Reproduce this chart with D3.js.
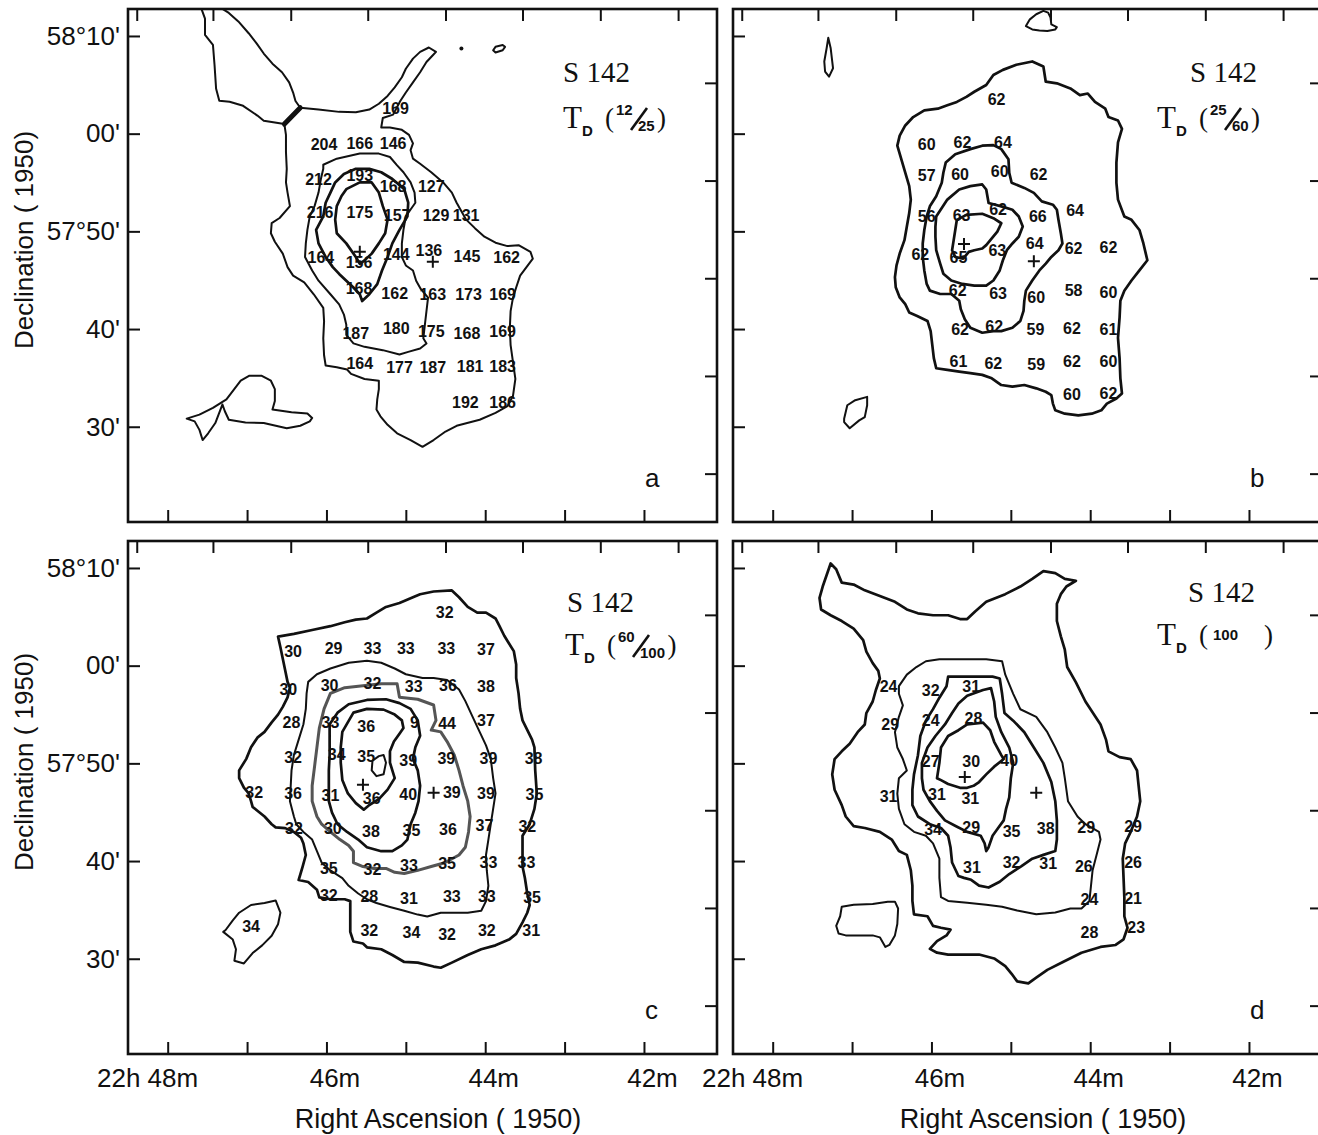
<!DOCTYPE html>
<html>
<head>
<meta charset="utf-8">
<script src="https://cdn.jsdelivr.net/npm/d3@7"></script>
<style>
  body { margin: 0; background: #fff; }
  text { font-family: "Liberation Sans", Arial, Helvetica, sans-serif; fill: #111; }
  .serif { font-family: "Liberation Serif", "Times New Roman", serif; }
  .num { font-weight: bold; font-size: 16px; }
</style>
</head>
<body>
<svg id="fig" width="1318" height="1135"></svg>
<script>
// ---- axes: RA in minutes of 22h, Dec in arcmin past 57 deg ----
const raTicks = [48, 47, 46, 45, 44, 43, 42];
const raTopTicks = [48.39, 47.43, 46.45, 45.48, 44.5, 43.53, 42.55, 41.57];
const raLabelVals = [48, 46, 44, 42];
const raLabelText = ["22h 48m", "46m", "44m", "42m"];
const decTicks = [70, 60, 50, 40, 30];
const decLabelText = ["58\u00b010'", "00'", "57\u00b050'", "40'", "30'"];
const decRightTicks = [65.2, 55.2, 45.2, 35.2, 25.2];

// ---- panel a : T_D (12/25) ----
const aOuter = [[47.57,72.67],[47.53,71.77],[47.53,70.11],[47.43,69.1],[47.41,67.05],[47.39,64.59],[47.35,63.37],[47.22,63.27],[47.05,62.85],[46.87,61.85],[46.79,61.33],[46.53,60.98],[46.51,59.87],[46.51,58.13],[46.50,56.4],[46.51,55.01],[46.49,53.97],[46.46,52.58],[46.59,51.37],[46.69,50.85],[46.7,49.81],[46.65,48.94],[46.55,47.72],[46.49,46.34],[46.42,45.47],[46.28,44.77],[46.16,43.56],[46.04,42.17],[46.03,40.79],[46.04,39.05],[46.03,37.32],[46.01,36.27],[45.87,36.1],[45.74,35.86],[45.69,35.41],[45.52,34.89],[45.34,34.71],[45.34,33.85],[45.36,32.8],[45.37,31.76],[45.32,31.07],[45.23,30.2],[45.11,29.33],[44.94,28.64],[44.79,27.95],[44.65,28.64],[44.5,29.51],[44.36,30.1],[44.07,30.72],[43.87,31.42],[43.72,32.11],[43.65,33.15],[43.62,34.89],[43.65,36.62],[43.68,38.36],[43.69,40.09],[43.68,41.83],[43.65,43.21],[43.61,44.25],[43.56,45.47],[43.48,46.34],[43.4,47.2],[43.43,47.9],[43.58,48.59],[43.72,48.49],[43.87,48.84],[44.01,49.46],[44.13,50.33],[44.24,51.2],[44.3,52.06],[44.36,52.93],[44.42,53.97],[44.53,55.01],[44.68,56.05],[44.82,56.92],[44.91,57.44],[44.94,58.31],[44.91,59.0],[44.96,59.87],[45.05,60.39],[45.2,60.63],[45.31,60.63],[45.29,61.6],[45.16,61.95],[45.07,63.34],[45.0,64.21],[44.91,65.25],[44.82,66.29],[44.74,67.33],[44.66,68.03],[44.62,68.37],[44.71,68.82],[44.82,68.37],[44.91,67.68],[45.0,66.64],[45.05,65.77],[45.14,64.73],[45.23,63.86],[45.34,63.06],[45.46,62.47],[45.63,62.2],[45.84,62.23],[46.1,62.47],[46.33,62.65],[46.39,63.34],[46.42,64.21],[46.47,65.25],[46.56,66.29],[46.68,67.16],[46.79,68.2],[46.88,69.24],[46.98,70.28],[47.11,71.49],[47.23,72.36],[47.31,72.78]];
const aRidge = [[46.53,60.98],[46.33,62.65]];
const aLevel2 = [[46.04,56.82],[45.87,57.44],[45.58,57.96],[45.34,57.96],[45.2,57.61],[45.11,56.75],[45.03,56.05],[44.94,55.01],[44.89,53.97],[44.88,52.93],[44.94,52.24],[45.0,51.54],[45.03,50.15],[45.05,48.77],[45.05,47.38],[45.0,46.51],[44.91,45.99],[44.87,44.95],[44.81,44.08],[44.72,43.21],[44.74,41.83],[44.76,40.44],[44.78,39.05],[44.74,38.53],[44.82,38.01],[44.97,37.66],[45.08,37.39],[45.29,37.84],[45.52,38.18],[45.66,38.53],[45.75,39.4],[45.75,40.44],[45.78,41.48],[45.84,42.52],[45.95,43.56],[46.1,44.95],[46.18,45.99],[46.27,47.38],[46.26,48.77],[46.24,50.15],[46.21,51.54],[46.15,52.58],[46.1,53.97],[46.07,55.36],[46.04,56.4]];
const aLevel3 = [[45.89,55.01],[45.78,55.88],[45.63,56.4],[45.46,56.4],[45.31,56.05],[45.17,55.36],[45.02,54.32],[44.97,52.93],[44.98,51.54],[45.08,50.15],[45.17,48.77],[45.23,47.38],[45.3,45.99],[45.36,44.6],[45.46,43.56],[45.55,42.87],[45.58,43.56],[45.66,44.25],[45.75,44.95],[45.84,45.64],[45.92,46.34],[46.01,47.38],[46.1,48.77],[46.13,50.15],[46.04,51.54],[46.01,52.93],[45.95,53.97]];
const aLevel4 = [[45.75,54.32],[45.58,55.01],[45.43,55.01],[45.34,53.97],[45.29,52.58],[45.23,51.2],[45.26,49.81],[45.34,48.77],[45.43,47.72],[45.52,47.03],[45.58,46.68],[45.63,47.38],[45.75,48.77],[45.87,49.81],[45.89,51.2],[45.87,52.58],[45.81,53.62]];
const aBlobSW = [[47.76,30.83],[47.66,30.55],[47.6,29.68],[47.56,28.64],[47.49,29.33],[47.4,30.38],[47.31,32.28],[47.28,31.59],[47.23,30.72],[47.02,30.44],[46.79,30.38],[46.5,29.85],[46.33,30.1],[46.21,30.55],[46.18,30.9],[46.24,31.35],[46.44,31.48],[46.68,31.76],[46.65,32.63],[46.65,33.85],[46.7,34.71],[46.82,35.23],[46.97,35.23],[47.08,34.71],[47.26,32.8],[47.43,31.94],[47.6,31.24]];
const aBlobNE = [[43.9,68.54],[43.87,68.89],[43.78,69.07],[43.75,68.89],[43.78,68.54],[43.87,68.3]];
const aDots = [[44.3,68.72]];
const aValues = [[45.13,62.6,169],
  [46.03,58.9,204],[45.58,59.0,166],[45.16,59.0,146],
  [46.10,55.3,212],[45.58,55.7,193],[45.16,54.6,168],[44.68,54.6,127],
  [46.08,52.0,216],[45.58,52.0,175],[45.11,51.7,157],[44.62,51.7,129],[44.24,51.7,131],
  [46.07,47.4,164],[45.59,46.8,156],[45.12,47.7,144],[44.71,48.1,136],[44.23,47.5,145],[43.73,47.3,162],
  [45.59,44.2,168],[45.14,43.7,162],[44.66,43.6,163],[44.21,43.6,173],[43.78,43.6,169],
  [45.63,39.6,187],[45.12,40.1,180],[44.68,39.8,175],[44.23,39.6,168],[43.78,39.8,169],
  [45.58,36.5,164],[45.08,36.1,177],[44.66,36.1,187],[44.19,36.2,181],[43.78,36.2,183],
  [44.25,32.5,192],[43.78,32.5,186]];
const aCrosses = [[45.58,47.9],[44.66,46.9]];

// ---- panel b : T_D (25/60) ----
const bOuter = [[44.73,67.39],[44.59,66.87],[44.56,65.32],[44.42,65.15],[44.25,64.63],[44.13,63.94],[44.03,64.11],[43.94,63.25],[43.81,62.56],[43.77,61.7],[43.65,61.35],[43.6,60.49],[43.65,59.11],[43.67,57.04],[43.67,54.97],[43.65,53.25],[43.57,51.52],[43.48,51.18],[43.38,50.14],[43.33,48.76],[43.28,47.04],[43.38,46.0],[43.48,44.97],[43.57,43.93],[43.62,42.9],[43.63,41.17],[43.65,39.1],[43.63,37.03],[43.62,34.96],[43.6,33.41],[43.67,32.89],[43.79,32.37],[43.86,31.68],[43.98,31.34],[44.15,31.17],[44.32,31.34],[44.44,31.68],[44.47,32.37],[44.49,33.24],[44.56,33.58],[44.68,33.93],[44.83,34.27],[44.98,34.1],[45.12,34.27],[45.24,34.96],[45.36,35.31],[45.51,35.48],[45.65,35.65],[45.8,35.82],[45.94,35.99],[45.97,37.03],[45.99,38.41],[46.01,39.79],[46.05,40.83],[46.18,41.34],[46.28,41.69],[46.33,42.55],[46.4,43.24],[46.45,44.28],[46.46,45.31],[46.44,46.52],[46.4,47.73],[46.34,49.1],[46.31,50.49],[46.28,51.87],[46.26,53.25],[46.28,54.63],[46.33,56.0],[46.38,57.39],[46.43,58.77],[46.4,59.8],[46.33,60.84],[46.23,61.7],[46.09,62.39],[45.92,62.56],[45.8,62.91],[45.68,63.25],[45.56,63.77],[45.46,64.29],[45.31,64.98],[45.22,66.01],[45.1,66.53],[44.93,67.05]];
const bLevel2 = [[45.82,57.04],[45.7,57.9],[45.51,58.42],[45.36,58.77],[45.22,58.83],[45.12,58.42],[45.03,57.39],[45.02,56.0],[44.99,54.97],[44.83,54.45],[44.71,53.94],[44.61,53.07],[44.47,52.73],[44.42,52.21],[44.4,51.18],[44.37,49.8],[44.35,48.76],[44.4,48.07],[44.49,47.38],[44.56,46.69],[44.64,46.0],[44.73,44.97],[44.81,43.93],[44.83,42.9],[44.84,41.86],[44.88,40.83],[44.98,40.14],[45.12,39.79],[45.22,39.79],[45.36,39.62],[45.51,40.14],[45.58,41.0],[45.63,42.03],[45.65,42.9],[45.75,43.59],[45.89,43.59],[46.02,43.93],[46.06,44.62],[46.09,46.0],[46.11,47.38],[46.11,48.76],[46.09,50.14],[46.06,51.52],[46.02,52.56],[45.94,53.59],[45.87,54.97],[45.85,56.0]];
const bLevel3 = [[45.94,51.52],[45.8,53.25],[45.65,54.28],[45.51,54.63],[45.36,54.8],[45.31,54.28],[45.28,52.9],[45.12,52.56],[44.98,52.21],[44.9,51.52],[44.85,50.49],[44.9,49.45],[44.98,48.76],[45.05,48.07],[45.1,47.04],[45.14,46.0],[45.22,44.97],[45.31,44.45],[45.46,44.45],[45.61,44.62],[45.75,44.97],[45.85,45.66],[45.89,46.69],[45.94,48.07],[45.95,49.45],[45.95,50.49]];
const bLevel4 = [[45.68,51.18],[45.56,51.69],[45.36,51.8],[45.22,51.35],[45.12,50.83],[45.17,49.97],[45.24,49.28],[45.31,48.59],[45.36,48.24],[45.46,48.07],[45.53,47.9],[45.6,47.21],[45.7,47.38],[45.74,48.07],[45.72,49.1],[45.7,50.14]];
const bBlobNW = [[47.3,69.81],[47.27,68.77],[47.25,67.39],[47.24,66.7],[47.29,65.84],[47.34,66.36],[47.35,67.39],[47.32,68.77]];
const bBlobTop = [[44.81,71.01],[44.76,71.7],[44.68,72.22],[44.59,72.57],[44.53,72.39],[44.5,71.88],[44.49,71.19],[44.42,70.91],[44.44,70.67],[44.54,70.5],[44.64,70.56],[44.73,70.67]];
const bBlobSW = [[47.1,30.82],[47.06,32.2],[46.96,32.72],[46.81,33.06],[46.81,32.2],[46.84,30.99],[46.91,30.65],[47.03,29.85],[47.1,30.48]];
const bValues = [[45.18,63.5,62],
  [46.06,58.9,60],[45.61,59.1,62],[45.10,59.1,64],
  [46.06,55.7,57],[45.64,55.8,60],[45.14,56.2,60],[44.65,55.8,62],
  [46.06,51.5,56],[45.62,51.7,63],[45.16,52.3,62],[44.66,51.5,66],[44.19,52.2,64],
  [46.14,47.7,62],[45.66,47.4,65],[45.17,48.1,63],[44.70,48.8,64],[44.21,48.3,62],[43.77,48.4,62],
  [45.67,44.0,62],[45.16,43.7,63],[44.68,43.3,60],[44.21,44.0,58],[43.77,43.8,60],
  [45.64,40.0,62],[45.21,40.3,62],[44.69,40.0,59],[44.23,40.1,62],[43.77,40.0,61],
  [45.66,36.7,61],[45.22,36.5,62],[44.68,36.4,59],[44.23,36.7,62],[43.77,36.75,60],
  [44.23,33.3,60],[43.77,33.4,62]];
const bCrosses = [[45.59,48.7],[44.71,46.93]];

// ---- panel c : T_D (60/100) ----
const cOuter = [[46.61,62.98],[46.41,63.26],[46.18,63.65],[45.95,64.04],[45.77,64.44],[45.63,64.71],[45.49,64.83],[45.37,65.42],[45.25,66.01],[45.08,66.41],[44.91,67.0],[44.82,67.31],[44.65,67.59],[44.42,67.7],[44.33,67.0],[44.22,66.01],[44.1,65.42],[43.99,65.42],[43.87,64.83],[43.82,64.04],[43.76,63.06],[43.7,62.27],[43.64,61.49],[43.61,60.11],[43.61,58.73],[43.58,57.16],[43.56,55.58],[43.53,54.4],[43.41,52.43],[43.38,51.64],[43.37,49.28],[43.35,46.92],[43.38,45.34],[43.44,43.77],[43.53,42.59],[43.53,41.01],[43.53,39.44],[43.5,38.26],[43.47,36.68],[43.44,35.5],[43.47,34.71],[43.53,33.73],[43.61,32.55],[43.7,31.96],[43.87,31.37],[44.05,30.97],[44.22,30.38],[44.42,29.6],[44.56,29.08],[44.65,29.2],[44.85,29.6],[45.02,29.67],[45.17,30.38],[45.31,30.97],[45.49,31.17],[45.54,31.56],[45.66,31.76],[45.7,32.75],[45.7,34.32],[45.7,35.9],[45.77,36.09],[45.95,36.09],[46.09,36.29],[46.12,37.07],[46.23,37.86],[46.35,38.06],[46.3,39.44],[46.26,40.62],[46.29,41.8],[46.32,42.39],[46.41,42.98],[46.52,43.37],[46.64,43.45],[46.69,43.77],[46.78,44.56],[46.87,45.15],[46.93,45.54],[46.95,46.13],[46.98,46.92],[47.04,47.51],[47.1,48.49],[47.1,49.28],[47.01,50.46],[46.95,51.64],[46.87,52.63],[46.78,53.22],[46.69,54.2],[46.61,54.99],[46.55,55.78],[46.49,56.76],[46.46,57.75],[46.49,58.34],[46.52,59.52],[46.55,60.7],[46.58,61.88]];
const cLevel2 = [[46.23,58.34],[46.12,59.12],[45.95,59.71],[45.72,60.3],[45.49,60.5],[45.31,60.3],[45.14,59.71],[45.0,59.12],[44.79,58.73],[44.65,58.73],[44.48,58.53],[44.33,57.55],[44.25,56.37],[44.16,54.79],[44.07,53.22],[43.99,51.84],[43.93,50.46],[43.9,48.49],[43.87,46.92],[43.9,45.34],[43.93,43.77],[43.96,42.2],[43.99,40.62],[43.98,39.04],[43.96,37.47],[43.99,35.9],[44.05,34.91],[44.22,34.71],[44.39,34.71],[44.56,34.71],[44.73,34.32],[44.85,34.52],[45.02,34.91],[45.2,35.3],[45.37,35.7],[45.49,36.09],[45.6,36.68],[45.72,37.47],[45.8,38.26],[45.95,39.04],[46.06,39.83],[46.12,41.01],[46.18,42.2],[46.29,42.98],[46.38,43.77],[46.41,44.56],[46.46,46.13],[46.45,47.71],[46.44,49.28],[46.41,50.86],[46.35,52.43],[46.29,54.0],[46.26,55.58],[46.25,57.16]];
const cLevel3 = [[45.95,57.16],[45.77,57.75],[45.54,57.94],[45.31,58.14],[45.11,58.14],[45.08,56.76],[44.85,56.56],[44.65,55.97],[44.62,54.4],[44.68,53.41],[44.56,53.22],[44.48,52.23],[44.39,50.86],[44.33,49.28],[44.28,47.71],[44.22,46.13],[44.19,44.56],[44.21,42.98],[44.25,41.41],[44.33,40.62],[44.51,39.83],[44.68,39.44],[44.85,39.05],[45.02,38.73],[45.14,38.85],[45.25,39.24],[45.4,39.24],[45.54,39.44],[45.66,39.83],[45.66,41.01],[45.72,41.6],[45.83,42.2],[45.95,42.98],[46.06,43.77],[46.12,44.56],[46.18,46.13],[46.18,47.71],[46.15,49.67],[46.12,51.64],[46.09,53.61],[46.03,55.58]];
const cLevel4 = [[45.96,54.0],[45.86,55.19],[45.72,56.05],[45.49,56.49],[45.25,56.56],[45.08,56.17],[44.94,55.58],[44.85,54.4],[44.82,52.82],[44.88,51.64],[44.91,50.46],[44.85,49.28],[44.82,47.71],[44.84,46.13],[44.88,44.95],[44.94,43.77],[44.98,42.2],[45.05,41.6],[45.17,41.01],[45.31,41.01],[45.49,41.41],[45.6,42.2],[45.74,42.98],[45.86,43.77],[45.93,44.95],[45.97,46.13],[45.97,47.71],[45.97,49.28],[45.96,50.86],[45.96,52.43]];
const cLevel5 = [[45.8,53.22],[45.66,55.19],[45.49,55.58],[45.28,55.5],[45.14,54.99],[45.05,54.4],[45.03,53.61],[45.08,53.02],[45.15,52.23],[45.2,51.25],[45.2,50.07],[45.14,48.49],[45.23,47.31],[45.34,46.33],[45.46,45.74],[45.53,45.26],[45.63,45.93],[45.73,46.92],[45.8,48.3],[45.82,50.07],[45.82,51.64]];
const cCore = [[45.34,50.74],[45.28,50.86],[45.25,50.07],[45.28,48.89],[45.37,48.69],[45.43,49.28],[45.42,50.27]];
const cBlobSW = [[47.27,32.94],[47.18,33.93],[47.1,34.71],[46.95,35.5],[46.78,35.7],[46.64,35.97],[46.58,34.71],[46.61,33.53],[46.69,32.35],[46.81,31.37],[46.93,30.58],[47.04,29.52],[47.16,29.79],[47.14,30.97],[47.18,31.96],[47.3,32.75]];
const cValues = [[44.51,65.5,32],
  [46.42,61.5,30],[45.91,61.8,29],[45.42,61.8,33],[45.0,61.8,33],[44.49,61.8,33],[43.99,61.7,37],
  [46.48,57.6,30],[45.96,58.0,30],[45.42,58.2,32],[44.90,57.9,33],[44.47,58.0,36],[43.99,57.9,38],
  [46.44,54.2,28],[45.95,54.2,33],[45.50,53.8,36],[44.89,54.2,9],[44.48,54.1,44],[43.99,54.4,37],
  [46.42,50.6,32],[45.87,50.9,34],[45.50,50.7,35],[44.97,50.3,39],[44.49,50.5,39],[43.96,50.5,39],[43.39,50.5,38],
  [46.91,47.0,32],[46.42,46.9,36],[45.95,46.7,31],[45.43,46.4,36],[44.97,46.8,40],[44.42,47.0,39],[43.99,46.9,39],[43.38,46.8,35],
  [46.41,43.4,32],[45.92,43.4,30],[45.44,43.1,38],[44.93,43.2,35],[44.47,43.3,36],[44.01,43.65,37],[43.47,43.6,32],
  [45.97,39.3,35],[45.42,39.2,32],[44.96,39.6,33],[44.48,39.8,35],[43.96,39.9,33],[43.48,39.9,33],
  [45.97,36.5,32],[45.46,36.4,28],[44.96,36.2,31],[44.42,36.4,33],[43.98,36.4,33],[43.41,36.3,35],
  [45.46,32.9,32],[44.93,32.7,34],[44.48,32.55,32],[43.98,32.9,32],[43.42,32.9,31],
  [46.95,33.3,34]];
const cCrosses = [[45.54,47.82],[44.65,47.0]];

// ---- panel d : T_D (100) ----
const dOuter = [[47.27,70.46],[47.2,69.87],[47.13,68.5],[46.98,68.3],[46.84,67.71],[46.65,67.12],[46.46,66.54],[46.31,65.75],[46.17,65.36],[45.98,65.16],[45.79,65.16],[45.64,64.77],[45.55,64.77],[45.45,65.55],[45.31,66.54],[45.07,67.32],[44.88,68.1],[44.73,68.89],[44.59,69.68],[44.44,69.48],[44.32,68.89],[44.18,68.69],[44.3,68.1],[44.37,67.32],[44.42,66.34],[44.42,64.57],[44.37,63.0],[44.32,61.63],[44.29,59.86],[44.18,58.29],[44.06,56.33],[43.87,53.98],[43.8,52.4],[43.77,51.23],[43.63,50.64],[43.49,50.44],[43.41,49.27],[43.39,47.7],[43.37,46.13],[43.41,44.56],[43.49,42.99],[43.56,41.81],[43.59,40.24],[43.58,38.28],[43.57,36.31],[43.57,34.35],[43.53,33.17],[43.58,31.99],[43.68,31.41],[43.87,31.21],[44.11,30.62],[44.35,29.64],[44.54,28.86],[44.68,28.07],[44.78,27.48],[44.92,27.68],[44.99,28.46],[45.07,29.25],[45.21,30.03],[45.4,30.43],[45.59,30.43],[45.79,30.43],[45.93,30.62],[46.02,31.01],[45.93,31.8],[45.81,32.39],[45.76,32.98],[45.88,33.17],[45.98,33.37],[46.05,34.35],[46.22,34.55],[46.24,35.92],[46.24,37.49],[46.26,39.06],[46.31,40.63],[46.41,41.02],[46.5,42.2],[46.65,42.99],[46.84,43.38],[46.98,43.57],[47.08,44.56],[47.13,45.73],[47.22,47.3],[47.25,48.87],[47.22,50.44],[47.13,51.23],[47.03,52.01],[46.93,53.19],[46.84,53.98],[46.82,55.15],[46.74,56.33],[46.7,57.51],[46.65,58.69],[46.67,59.47],[46.74,60.26],[46.82,61.43],[46.86,62.61],[46.98,63.79],[47.13,64.57],[47.27,65.16],[47.39,65.75],[47.41,66.93],[47.37,68.1],[47.32,69.28]];
const dLevel2 = [[46.41,57.9],[46.31,59.08],[46.19,59.86],[46.07,60.45],[45.9,60.65],[45.69,60.65],[45.5,60.65],[45.31,60.65],[45.11,60.45],[45.07,59.08],[44.97,57.12],[44.88,55.54],[44.68,54.76],[44.54,53.19],[44.44,51.62],[44.35,50.05],[44.32,48.48],[44.28,46.13],[44.16,44.56],[44.06,43.77],[43.89,42.99],[43.87,42.2],[43.92,40.63],[43.97,39.06],[43.99,37.49],[44.01,35.92],[44.11,35.14],[44.25,35.14],[44.44,34.74],[44.68,34.55],[44.92,34.94],[45.11,35.33],[45.31,35.53],[45.55,35.72],[45.79,35.92],[45.88,36.31],[45.9,38.28],[45.9,40.24],[45.98,41.81],[46.07,42.59],[46.22,42.99],[46.34,43.77],[46.41,45.34],[46.43,46.91],[46.41,48.48],[46.31,49.27],[46.36,50.44],[46.43,51.62],[46.46,53.19],[46.41,54.76],[46.36,55.94],[46.41,57.12]];
const dLevel3 = [[46.17,50.84],[46.14,52.8],[46.07,54.37],[45.98,55.55],[45.9,56.72],[45.81,57.9],[45.79,58.88],[45.55,58.88],[45.23,58.88],[45.14,58.69],[45.11,57.12],[45.08,55.15],[44.97,54.37],[44.83,53.19],[44.71,51.62],[44.59,50.05],[44.49,48.09],[44.44,46.13],[44.42,44.16],[44.42,42.2],[44.44,41.02],[44.59,40.63],[44.73,40.24],[44.87,39.45],[45.02,38.67],[45.14,37.88],[45.28,37.29],[45.4,37.49],[45.5,38.08],[45.59,38.28],[45.66,38.47],[45.74,39.85],[45.76,41.42],[45.79,42.59],[45.88,43.38],[46.02,43.77],[46.17,44.56],[46.24,45.73],[46.24,47.3],[46.22,48.87]];
const dLevel4 = [[46.12,50.05],[46.05,51.62],[45.95,52.8],[45.83,53.98],[45.74,55.15],[45.66,56.13],[45.55,56.92],[45.35,57.51],[45.25,57.7],[45.21,56.33],[45.19,54.76],[45.12,53.19],[45.02,51.62],[44.97,50.05],[45.0,48.48],[45.02,46.52],[45.06,45.34],[45.09,44.16],[45.16,43.38],[45.23,42.59],[45.28,41.42],[45.31,41.02],[45.33,41.81],[45.38,42.59],[45.55,42.99],[45.69,43.57],[45.83,44.16],[45.93,45.14],[46.02,46.13],[46.1,47.3],[46.12,48.48]];
const dLevel5 = [[45.93,48.48],[45.9,50.05],[45.88,51.62],[45.79,52.8],[45.66,53.39],[45.55,53.98],[45.35,54.17],[45.26,53.39],[45.21,52.21],[45.12,50.84],[45.09,50.44],[45.21,49.66],[45.31,48.87],[45.4,48.09],[45.47,47.7],[45.55,47.5],[45.64,47.5],[45.79,47.89],[45.88,48.28]];
const dBlobSW = [[47.13,35.33],[46.98,35.53],[46.74,35.61],[46.55,35.84],[46.46,35.84],[46.42,35.14],[46.43,33.56],[46.46,32.39],[46.53,31.41],[46.58,31.21],[46.65,32.19],[46.74,32.39],[46.93,32.39],[47.08,32.39],[47.17,32.58],[47.2,33.37],[47.15,34.35]];
const dValues = [[46.54,57.9,24],[46.01,57.5,32],[45.5,57.9,31],
  [46.52,54.0,29],[46.01,54.4,24],[45.47,54.6,28],
  [46.01,50.25,27],[45.5,50.17,30],[45.02,50.36,40],
  [46.54,46.6,31],[45.93,46.8,31],[45.51,46.4,31],
  [45.98,43.26,34],[45.5,43.5,29],[44.99,43.1,35],[44.56,43.4,38],[44.05,43.5,29],[43.46,43.57,29],
  [45.49,39.4,31],[44.99,39.85,32],[44.53,39.77,31],[44.08,39.5,26],[43.46,39.85,26],
  [44.01,36.1,24],[43.46,36.2,21],
  [44.01,32.7,28],[43.42,33.2,23]];
const dCrosses = [[45.58,48.6],[44.68,47.0]];

// ---- layout ----
const W = 589, H = 513;
const THIN = 2, THICK = 2.7;

const panels = [
  { letter: "a", left: 128, top: 9, xLabels: false, yLabels: true, frac: ["12", "25"],
    titleX: 435, titleY: 119, sX: 435, sY: 73, yTitle: 231,
    lines: [
      { pts: aOuter, w: THIN }, { pts: aRidge, w: 5 },
      { pts: aLevel2, w: THIN, closed: true }, { pts: aLevel3, w: THICK, closed: true },
      { pts: aLevel4, w: THICK, closed: true }, { pts: aBlobSW, w: THIN, closed: true },
      { pts: aBlobNE, w: THIN, closed: true }],
    dots: aDots, values: aValues, crosses: aCrosses },
  { letter: "b", left: 733, top: 9, xLabels: false, yLabels: false, frac: ["25", "60"],
    titleX: 424, titleY: 119, sX: 457, sY: 73,
    lines: [
      { pts: bOuter, w: THICK, closed: true }, { pts: bLevel2, w: THICK, closed: true },
      { pts: bLevel3, w: THICK, closed: true }, { pts: bLevel4, w: THICK, closed: true },
      { pts: bBlobNW, w: THIN, closed: true }, { pts: bBlobTop, w: THIN, closed: true },
      { pts: bBlobSW, w: THIN, closed: true }],
    dots: [], values: bValues, crosses: bCrosses },
  { letter: "c", left: 128, top: 541, xLabels: true, yLabels: true, frac: ["60", "100"],
    titleX: 437, titleY: 114, sX: 439, sY: 71, yTitle: 221,
    lines: [
      { pts: cOuter, w: THICK, closed: true }, { pts: cLevel2, w: THIN, closed: true },
      { pts: cLevel3, w: 3, closed: true, color: "#555" }, { pts: cLevel4, w: THICK, closed: true },
      { pts: cLevel5, w: THICK, closed: true }, { pts: cCore, w: THIN, closed: true },
      { pts: cBlobSW, w: THIN, closed: true }],
    dots: [], values: cValues, crosses: cCrosses },
  { letter: "d", left: 733, top: 541, xLabels: true, yLabels: false, frac: ["100"],
    titleX: 424, titleY: 104, sX: 455, sY: 61,
    lines: [
      { pts: dOuter, w: THICK, closed: true }, { pts: dLevel2, w: THIN, closed: true },
      { pts: dLevel3, w: THICK, closed: true }, { pts: dLevel4, w: THICK, closed: true },
      { pts: dLevel5, w: THICK, closed: true }, { pts: dBlobSW, w: THIN, closed: true }],
    dots: [], values: dValues, crosses: dCrosses }
];

const x = d3.scaleLinear().domain([48.5, 41.08]).range([0, W]);
const y = d3.scaleLinear().domain([72.76, 20.25]).range([0, H]);
const line = d3.line().x(d => x(d[0])).y(d => y(d[1]));

const svg = d3.select("#fig");
svg.append("rect").attr("width", 1318).attr("height", 1135).attr("fill", "#fff");

panels.forEach((p, i) => {
  const g = svg.append("g").attr("transform", `translate(${p.left},${p.top})`);
  const clipId = "clip" + i;
  g.append("clipPath").attr("id", clipId)
    .append("rect").attr("width", W).attr("height", H);
  const plot = g.append("g").attr("clip-path", `url(#${clipId})`);

  // contours
  p.lines.forEach(c => {
    plot.append("path")
      .attr("d", line(c.pts) + (c.closed ? "Z" : ""))
      .attr("fill", "none")
      .attr("stroke", c.color || "#111")
      .attr("stroke-width", c.w)
      .attr("stroke-linejoin", "round")
      .attr("stroke-linecap", "round");
  });
  plot.selectAll("circle.dot").data(p.dots).enter().append("circle")
    .attr("cx", d => x(d[0])).attr("cy", d => y(d[1])).attr("r", 2).attr("fill", "#111");

  // values
  plot.selectAll("text.num").data(p.values).enter().append("text")
    .attr("class", "num")
    .attr("x", d => x(d[0])).attr("y", d => y(d[1]))
    .attr("text-anchor", "middle").attr("dy", "0.36em")
    .text(d => d[2]);

  // crosses
  p.crosses.forEach(d => {
    const cx = x(d[0]), cy = y(d[1]);
    plot.append("path").attr("d", `M${cx - 6},${cy}H${cx + 6}M${cx},${cy - 6}V${cy + 6}`)
      .attr("stroke", "#111").attr("stroke-width", 2);
  });

  // axes (ticks point inward)
  const fmtX = d => {
    const k = raLabelVals.indexOf(d);
    return p.xLabels && k >= 0 ? raLabelText[k] : "";
  };
  const axB = g.append("g").attr("transform", `translate(0,${H})`)
    .call(d3.axisBottom(x).tickValues(raTicks).tickSizeInner(-12).tickSizeOuter(0).tickPadding(15).tickFormat(fmtX));
  axB.selectAll(".tick text").attr("text-anchor", d => d === 48 ? "end" : "middle")
    .attr("dx", d => d === 48 ? 30 : 8);
  const axT = g.append("g")
    .call(d3.axisTop(x).tickValues(raTopTicks).tickSizeInner(-12).tickSizeOuter(0).tickFormat(""));
  const axL = g.append("g")
    .call(d3.axisLeft(y).tickValues(decTicks).tickSizeInner(-12).tickSizeOuter(0).tickPadding(8)
      .tickFormat(d => p.yLabels ? decLabelText[decTicks.indexOf(d)] : ""));
  const axR = g.append("g").attr("transform", `translate(${W},0)`)
    .call(d3.axisRight(y).tickValues(decRightTicks).tickSizeInner(-12).tickSizeOuter(0).tickFormat(""));
  [axB, axT, axL, axR].forEach(a => {
    a.select(".domain").remove();
    a.attr("font-size", 26).attr("font-family", "Liberation Sans, Arial, sans-serif");
    a.selectAll(".tick line").attr("stroke", "#111").attr("stroke-width", 2);
    a.selectAll(".tick text").attr("fill", "#111");
  });

  // frame
  g.append("rect").attr("width", W).attr("height", H)
    .attr("fill", "none").attr("stroke", "#111").attr("stroke-width", 2.6);

  // panel letter
  g.append("text").attr("x", 517).attr("y", 478).style("font-size", "26px").text(p.letter);

  // title: S 142 / T_D (..)
  g.append("text").attr("class", "serif").attr("x", p.sX).attr("y", p.sY)
    .style("font-size", "29px").text("S 142");
  const t = g.append("g").attr("transform", `translate(${p.titleX},${p.titleY})`);
  t.append("text").attr("class", "serif").style("font-size", "31px").text("T");
  t.append("text").attr("x", 19).attr("y", 8).style("font-size", "15px").style("font-weight", "bold").text("D");
  t.append("text").attr("class", "serif").attr("x", 42).attr("y", -1).style("font-size", "27px").text("(");
  if (p.frac.length === 2) {
    t.append("text").attr("x", 53).attr("y", -13).style("font-size", "15px").style("font-weight", "bold").text(p.frac[0]);
    const sx = 53 + p.frac[0].length * 8.5;
    t.append("path").attr("d", `M${sx - 2},${2}L${sx + 14},${-20}`).attr("stroke", "#111").attr("stroke-width", 2.6);
    t.append("text").attr("x", sx + 5).attr("y", 3).style("font-size", "15px").style("font-weight", "bold").text(p.frac[1]);
    t.append("text").attr("class", "serif").attr("x", sx + 7 + p.frac[1].length * 8.5).attr("y", -1)
      .style("font-size", "27px").text(")");
  } else {
    t.append("text").attr("x", 56).attr("y", -5).style("font-size", "15px").style("font-weight", "bold").text(p.frac[0]);
    t.append("text").attr("class", "serif").attr("x", 107).attr("y", -1).style("font-size", "27px").text(")");
  }

  // y-axis title
  if (p.yLabels) {
    svg.append("text").attr("transform", `translate(33,${p.top + p.yTitle}) rotate(-90)`)
      .attr("text-anchor", "middle").style("font-size", "26px").text("Declination ( 1950)");
  }
  // x-axis title
  if (p.xLabels) {
    svg.append("text").attr("x", p.left + 310).attr("y", 1128)
      .attr("text-anchor", "middle").style("font-size", "27px").text("Right Ascension ( 1950)");
  }
});
</script>
</body>
</html>
